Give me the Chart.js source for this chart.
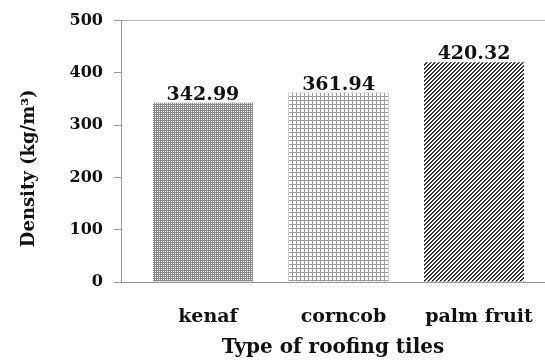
<!DOCTYPE html>
<html>
<head>
<meta charset="utf-8">
<script src="https://cdn.jsdelivr.net/npm/chart.js@4/dist/chart.umd.min.js"></script>
<style>
  html, body { margin: 0; padding: 0; background: #ffffff; }
  #wrap { width: 545px; height: 363px; }
</style>
</head>
<body>
<div id="wrap"><canvas id="chart" width="545" height="363"></canvas></div>
<script>
// Roofing tile types and their measured densities (kg/m3)
const categories = ['kenaf', 'corncob', 'palm fruit'];
const densities = [342.99, 361.94, 420.32];
const yTicks = [0, 100, 200, 300, 400, 500];
const yTitle = 'Density (kg/m\u00b3)';
const xTitle = 'Type of roofing tiles';

const FONT = '"DejaVu Serif", "Liberation Serif", serif';

// Build a small repeating tile and turn it into a canvas pattern
function makePattern(size, paint) {
  const c = document.createElement('canvas');
  c.width = size; c.height = size;
  const g = c.getContext('2d');
  paint(g, size);
  return g.createPattern(c, 'repeat');
}

// fine check pattern
const checkFill = makePattern(4, (g, n) => {
  g.fillStyle = '#8a8a8a';
  g.fillRect(0, 0, n, n);
  g.fillStyle = '#f4f4f4';
  [[1, 1], [3, 3], [1, 3], [3, 1]].forEach(([x, y]) => g.fillRect(x, y, 1, 1));
});

// square grid pattern
const gridFill = makePattern(4, (g, n) => {
  g.fillStyle = '#ffffff';
  g.fillRect(0, 0, n, n);
  g.fillStyle = '#9c9c9c';
  g.fillRect(0, 0, n, 1);
  g.fillRect(0, 0, 1, n);
});

// dark diagonal stripes
const stripeFill = makePattern(4, (g, n) => {
  g.fillStyle = '#ffffff';
  g.fillRect(0, 0, n, n);
  for (let x = 0; x < n; x++) {
    for (let y = 0; y < n; y++) {
      const k = (x + y) % 4;
      if (k === 0) { g.fillStyle = '#1c1c1c'; g.fillRect(x, y, 1, 1); }
      else if (k === 1) { g.fillStyle = '#4a4a4a'; g.fillRect(x, y, 1, 1); }
    }
  }
});

const fills = [checkFill, gridFill, stripeFill];

// Value labels above each bar
const valueLabels = {
  id: 'valueLabels',
  afterDatasetsDraw(chart) {
    const ctx = chart.ctx;
    const meta = chart.getDatasetMeta(0);
    ctx.save();
    ctx.font = 'bold 19px ' + FONT;
    ctx.fillStyle = '#111111';
    ctx.textAlign = 'center';
    ctx.textBaseline = 'alphabetic';
    meta.data.forEach((bar, i) => {
      ctx.fillText(densities[i].toFixed(2), bar.x, bar.y - 3);
    });
    ctx.restore();
  }
};

// Rotated y-axis title
const yAxisTitle = {
  id: 'yAxisTitle',
  afterDraw(chart) {
    const ctx = chart.ctx;
    const area = chart.chartArea;
    ctx.save();
    ctx.translate(34, area.top + (area.bottom - area.top) * 0.565);
    ctx.rotate(-Math.PI / 2);
    ctx.font = 'bold 18px ' + FONT;
    ctx.fillStyle = '#111111';
    ctx.textAlign = 'center';
    ctx.textBaseline = 'alphabetic';
    ctx.fillText(yTitle, 0, 0);
    ctx.restore();
  }
};

Chart.defaults.font.family = FONT;

new Chart(document.getElementById('chart'), {
  type: 'bar',
  data: {
    datasets: [{
      data: densities.map((v, i) => ({ x: i, y: v })),
      backgroundColor: fills,
      borderWidth: 0,
      barPercentage: 0.738,
      categoryPercentage: 1
    }]
  },
  options: {
    responsive: false,
    animation: false,
    devicePixelRatio: 1,
    layout: { padding: { top: 15, right: 0, bottom: 0, left: 0 } },
    plugins: {
      legend: { display: false },
      tooltip: { enabled: false }
    },
    scales: {
      x: {
        type: 'linear',
        offset: false,
        min: -0.605,
        max: 2.524,
        afterFit(scale) { scale.height = 81; scale.paddingLeft = 0; scale.paddingRight = 0; },
        afterBuildTicks(scale) { scale.ticks = categories.map((_, i) => ({ value: i })); },
        grid: {
          display: true,
          drawOnChartArea: false,
          drawTicks: true,
          tickLength: 24,
          color: 'rgba(0,0,0,0)',
          tickColor: 'rgba(0,0,0,0)'
        },
        border: { display: true, color: '#9a9a9a', width: 1 },
        ticks: {
          padding: 0,
          labelOffset: 5,
          color: '#111111',
          font: { size: 19, weight: 'bold' },
          callback: (v) => categories[v]
        },
        title: {
          display: true,
          text: xTitle,
          color: '#111111',
          font: { size: 20, weight: 'bold' },
          padding: { top: 0, bottom: 3 }
        }
      },
      y: {
        min: 0,
        max: 500,
        afterFit(scale) { scale.width = 121; },
        afterBuildTicks(scale) { scale.ticks = yTicks.map(v => ({ value: v })); },
        grid: {
          color: (c) => (c.tick && c.tick.value === 500 ? '#b8b8b8' : 'rgba(0,0,0,0)'),
          tickColor: '#9a9a9a',
          tickLength: 7,
          drawTicks: true
        },
        border: { display: true, color: '#9a9a9a', width: 1 },
        ticks: {
          padding: 11,
          color: '#111111',
          font: { size: 16, weight: 'bold' }
        }
      }
    }
  },
  plugins: [valueLabels, yAxisTitle]
});
</script>
</body>
</html>
